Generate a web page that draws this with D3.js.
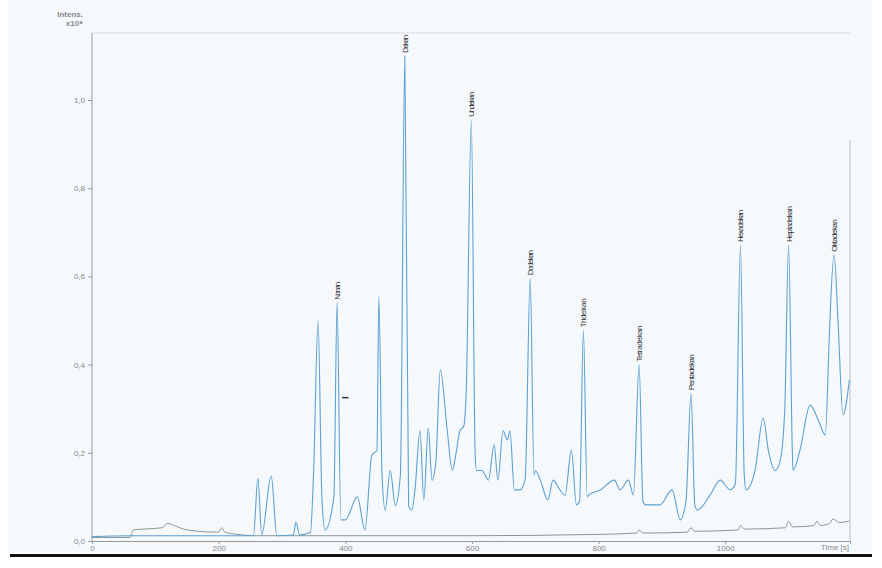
<!DOCTYPE html>
<html>
<head>
<meta charset="utf-8">
<script src="https://d3js.org/d3.v7.min.js"></script>
<style>
body { margin: 0; background: #fff; font-family: Arial, 'Liberation Sans', sans-serif; }
</style>
</head>
<body>
<div id="chart"></div>
<script>
// main trace: [time s, intensity x10^8]
var mainTrace = [[0,.01],[60,.012],[123,.012],[171,.012],[234,.012],[255,.012],[262,.143],[268,.014],[283,.147],[292,.012],[318,.014],[322,.043],[328,.014],[345,.02],[350,.16],[357,.50],[363,.1],[368,.025],[382,.1],[387,.54],[393,.048],[400,.048],[419,.1],[431,.025],[442,.195],[450,.206],[453,.553],[458,.15],[463,.07],[471,.16],[479,.08],[487,.15],[494,1.10],[500,.08],[505,.07],[510,.116],[518,.25],[524,.093],[531,.256],[537,.138],[543,.18],[550,.388],[561,.25],[569,.16],[575,.2],[581,.25],[587,.26],[591,.342],[599,.955],[605,.2],[607,.16],[616,.16],[626,.138],[635,.218],[641,.138],[649,.25],[656,.229],[660,.25],[667,.116],[676,.116],[684,.14],[692,.596],[698,.15],[700,.16],[708,.138],[720,.093],[728,.138],[739,.116],[747,.104],[757,.206],[765,.082],[770,.09],[776,.478],[782,.1],[784,.104],[803,.116],[825,.138],[834,.116],[847,.138],[855,.104],[864,.40],[870,.09],[874,.082],[897,.082],[916,.116],[929,.048],[938,.09],[946,.335],[952,.08],[956,.07],[976,.104],[992,.138],[1008,.116],[1016,.13],[1024,.671],[1030,.15],[1033,.116],[1047,.16],[1060,.279],[1068,.206],[1079,.16],[1087,.184],[1094,.3],[1100,.671],[1106,.2],[1107,.16],[1118,.206],[1134,.308],[1147,.274],[1158,.24],[1164,.45],[1166,.524],[1172,.649],[1178,.5],[1186,.286],[1196,.365]];

var lowTrace = [[0,.008],[60,.008],[65,.025],[110,.03],[120,.04],[130,.035],[150,.025],[200,.02],[205,.03],[210,.02],[230,.015],[255,.012],[600,.012],[800,.015],[860,.018],[864,.025],[870,.018],[940,.02],[946,.03],[952,.022],[1020,.025],[1024,.035],[1030,.027],[1095,.03],[1100,.045],[1106,.032],[1140,.035],[1145,.045],[1150,.035],[1165,.04],[1170,.05],[1180,.042],[1196,.045]];

var peakNames = ["Nonan","Dekan","Undekan","Dodekan","Tridekan","Tetradekan","Pentadekan","Hexadekan","Heptadekan","Oktadekan"];
var peakTimes = [387,494,599,692,776,864,946,1024,1100,1172];
var peakHeights = [.54,1.10,.955,.596,.478,.40,.335,.671,.671,.649];

var xTicks = [0,200,400,600,800,1000];
var yTicks = [0,0.2,0.4,0.6,0.8,1.0];

var svg = d3.select("#chart").append("svg").attr("width", 882).attr("height", 568);
svg.append("rect").attr("x", 8).attr("y", 0).attr("width", 864).attr("height", 553).attr("fill", "#f5f9fc");

var x = d3.scaleLinear().domain([0, 1197]).range([92, 850]);
var y = d3.scaleLinear().domain([0, 1.0]).range([541, 100]);

// frame
svg.append("line").attr("x1", 92).attr("x2", 850).attr("y1", 33).attr("y2", 33).attr("stroke", "#d8dde2");
svg.append("line").attr("x1", 850).attr("x2", 850).attr("y1", 140).attr("y2", 541).attr("stroke", "#b8c0c8");

var fmt = function(d) { return d3.format(".1f")(d).replace(".", ","); };

var ya = svg.append("g").attr("transform", "translate(92,0)")
  .call(d3.axisLeft(y).tickValues(yTicks).tickFormat(fmt).tickSize(4));
ya.select(".domain").attr("stroke", "#999").attr("d", "M0,33V541");

var xa = svg.append("g").attr("transform", "translate(0,541)")
  .call(d3.axisBottom(x).tickValues(xTicks).tickFormat(d3.format("d")).tickSize(3).tickPadding(1));
xa.select(".domain").attr("stroke", "#999");
svg.selectAll(".tick line").attr("stroke", "#999");
svg.selectAll(".tick text").attr("fill", "#888").style("font-size", "8px").style("font-family", "Arial");

svg.append("text").attr("x", 849).attr("y", 550).attr("text-anchor", "end")
  .attr("fill", "#888").style("font-size", "8px").text("Time [s]");
svg.append("text").attr("x", 83).attr("y", 17).attr("text-anchor", "end")
  .attr("fill", "#888").style("font-size", "8px").style("font-weight", "bold").text("Intens.");
svg.append("text").attr("x", 83).attr("y", 26).attr("text-anchor", "end")
  .attr("fill", "#888").style("font-size", "8px").style("font-weight", "bold").text("x10⁸");

var line = d3.line().x(function(d) { return x(d[0]); }).y(function(d) { return y(d[1]); })
  .curve(d3.curveMonotoneX);

svg.append("path").datum(lowTrace).attr("d", line)
  .attr("fill", "none").attr("stroke", "#8a9898").attr("stroke-width", 1);
svg.append("path").datum(mainTrace).attr("d", line)
  .attr("fill", "none").attr("stroke", "#5fa0d2").attr("stroke-width", 1.1);

// little mark
svg.append("line").attr("x1", x(395)).attr("x2", x(405)).attr("y1", y(0.325)).attr("y2", y(0.325))
  .attr("stroke", "#333").attr("stroke-width", 1.5);

peakNames.forEach(function(n, i) {
  var px = x(peakTimes[i]), py = y(peakHeights[i]) - 3;
  svg.append("text").attr("transform", "translate(" + (px + 3) + "," + py + ") rotate(-90)")
    .attr("fill", "#333").style("font-size", "8px").style("font-family", "'Liberation Sans Narrow', Arial")
    .attr("textLength", n.length * 3.6).text(n);
});

// black bottom rule
svg.append("rect").attr("x", 10).attr("y", 554).attr("width", 862).attr("height", 3).attr("fill", "#111");
</script>
</body>
</html>
